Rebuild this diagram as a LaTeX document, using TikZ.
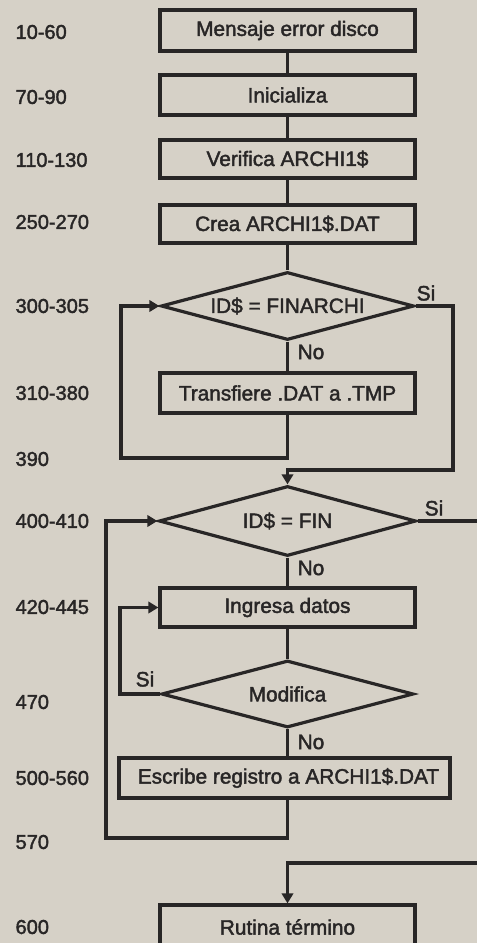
\documentclass[tikz,border=0pt]{standalone}
\usepackage{fontspec}
\setmainfont{Liberation Sans}[FakeBold=2]
\usetikzlibrary{shapes.geometric,arrows.meta}
\definecolor{paper}{RGB}{214,209,199}
\definecolor{ink}{RGB}{40,38,38}
\begin{document}
\begin{tikzpicture}[x=0.75pt,y=-0.75pt,color=ink,line width=2.4pt,
  box/.style={draw,fill=paper,rectangle,inner sep=0pt,minimum width=191.25pt,minimum height=30pt,font=\fontsize{15.6}{18}\selectfont},
  dia/.style={diamond,draw,fill=paper,inner sep=0pt,shape aspect=3.7,font=\fontsize{15.6}{18}\selectfont},
  lbl/.style={anchor=west,inner sep=0pt,font=\fontsize{15}{17}\selectfont},
  tag/.style={inner sep=0pt,font=\fontsize{15.6}{18}\selectfont},
  arrow/.style={-{Triangle[length=7.5pt,width=8.5pt]}}]
\useasboundingbox (0,0) rectangle (477,943);
\fill[paper] (0,0) rectangle (477,943);
\clip (0,0) rectangle (477,943);
% boxes
\node[box,minimum height=30.75pt] (b1) at (287.5,30.5) {Mensaje error disco};
\node[box] (b2) at (287.5,95) {Inicializa};
\node[box,minimum height=28.5pt] (b3) at (287.5,159) {Verifica ARCHI1\$};
\node[box,minimum height=28.5pt] (b4) at (287.5,224) {Crea ARCHI1\$.DAT};
\node[dia,minimum width=189.75pt,minimum height=51pt] (d1) at (287.5,306) {ID\$ = FINARCHI};
\node[box] (b5) at (287.5,393) {Transfiere .DAT a .TMP};
\node[dia,minimum width=192.75pt,minimum height=52.5pt] (d2) at (287.5,521) {ID\$ = FIN};
\node[box,minimum height=29.25pt] (b6) at (287.5,607.5) {Ingresa datos};
\node[dia,minimum width=189pt,minimum height=50.25pt] (d3) at (287.5,694) {Modifica};
\node[box,minimum width=248.25pt] (b7) at (284.5,778) {\hspace{6pt}Escribe registro a ARCHI1\$.DAT};
\node[box,minimum height=33pt] (b8) at (287.5,927) {Rutina término};
% line numbers
\node[lbl] (l1) at (14,32) {10-60};
\node[lbl] (l2) at (14,97) {70-90};
\node[lbl] (l3) at (14,160) {110-130};
\node[lbl] (l4) at (14,222) {250-270};
\node[lbl] (l5) at (14,306) {300-305};
\node[lbl] (l6) at (14,393) {310-380};
\node[lbl] (l7) at (14,459) {390};
\node[lbl] (l8) at (14,521) {400-410};
\node[lbl] (l9) at (14,607) {420-445};
\node[lbl] (l10) at (14,702) {470};
\node[lbl] (l11) at (14,778) {500-560};
\node[lbl] (l12) at (14,842) {570};
\node[lbl] (l13) at (14,927) {600};
% branch labels
\node[tag] (s1) at (426,293) {Si};
\node[tag] (n1) at (311,352) {No};
\node[tag] (s2) at (434,508) {Si};
\node[tag] (n2) at (311,568) {No};
\node[tag] (s3) at (145,679) {Si};
\node[tag] (n3) at (311,742) {No};
% helper coordinates
\coordinate (lp1) at (121,458);
\coordinate (r1) at (453,470);
\coordinate (r2) at (480,521);
\coordinate (lp2) at (106,838);
\coordinate (lp3) at (120,694);
\coordinate (r3) at (480,863);
% connectors
\draw (b1) -- (b2);
\draw (b2) -- (b3);
\draw (b3) -- (b4);
\draw (b4.south) -- (d1.north);
\draw (d1.south) -- (b5.north);
\draw[arrow] (b5.south) |- (lp1) |- (d1.west);
\draw[arrow] (d1.east) -| (r1) -| (d2.north);
\draw (d2.east) -- (r2);
\draw (d2.south) -- (b6.north);
\draw (b6.south) -- (d3.north);
\draw[arrow] (d3.west) -- (lp3) |- (b6.west);
\draw (d3.south) -- (d3.south |- b7.north);
\draw[arrow] (d3.south |- b7.south) |- (lp2) |- (d2.west);
\draw[arrow] (r3) -| (b8.north);
\end{tikzpicture}
\end{document}
